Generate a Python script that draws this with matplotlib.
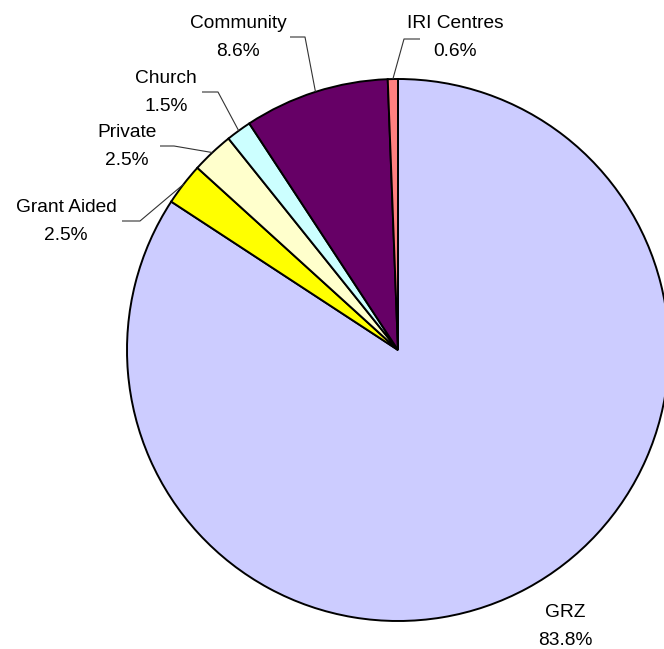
import matplotlib
matplotlib.use("Agg")
import matplotlib.pyplot as plt
import numpy as np

# School ownership shares (%)
categories = ["GRZ", "Grant Aided", "Private", "Church", "Community", "IRI Centres"]
shares = [83.8, 2.5, 2.5, 1.5, 8.6, 0.6]
colors = ["#CCCCFF", "#FFFF00", "#FFFFCC", "#CCFFFF", "#660066", "#FF8080"]

W, H = 664, 649
plt.rcParams["font.family"] = ["Liberation Sans", "DejaVu Sans"]

fig = plt.figure(figsize=(W / 100, H / 100), dpi=100)
ax = fig.add_axes([0, 0, 1, 1])


def Y(y):
    # convert top-down pixel row to axis coordinate
    return H - y


cx, cy, R = 398, Y(350), 271
wedges, _ = ax.pie(shares, colors=colors, startangle=90, counterclock=False,
                   center=(cx, cy), radius=R,
                   wedgeprops=dict(edgecolor="black", linewidth=1.4))

# label placement: (name baseline x-centre, name baseline y), leader elbow and end
label_layout = {
    "GRZ":         ((565, 617), None),
    "Grant Aided": ((66, 212), [(140, 221), (122, 221)]),
    "Private":     ((127, 137), [(174, 146), (160, 146)]),
    "Church":      ((166, 83), [(218, 92), (202, 92)]),
    "Community":   ((238, 28), [(305, 37), (290, 37)]),
    "IRI Centres": ((455, 28), [(404, 39), (420, 39)]),
}

fs = 13.8
for w, name, val in zip(wedges, categories, shares):
    (tx, ty), leader = label_layout[name]
    ax.text(tx, Y(ty), name, ha="center", va="baseline", fontsize=fs, color="black")
    ax.text(tx, Y(ty + 28), f"{val:.1f}%", ha="center", va="baseline", fontsize=fs,
            color="black")
    if leader is not None:
        mid = np.deg2rad((w.theta1 + w.theta2) / 2)
        px = [cx + R * np.cos(mid)] + [p[0] for p in leader]
        py = [cy + R * np.sin(mid)] + [Y(p[1]) for p in leader]
        ax.plot(px, py, color="#333333", linewidth=0.8, solid_capstyle="butt")

ax.set_xlim(0, W)
ax.set_ylim(0, H)
ax.set_aspect("equal")
ax.axis("off")

fig.savefig("out.png", dpi=100, facecolor="white")
